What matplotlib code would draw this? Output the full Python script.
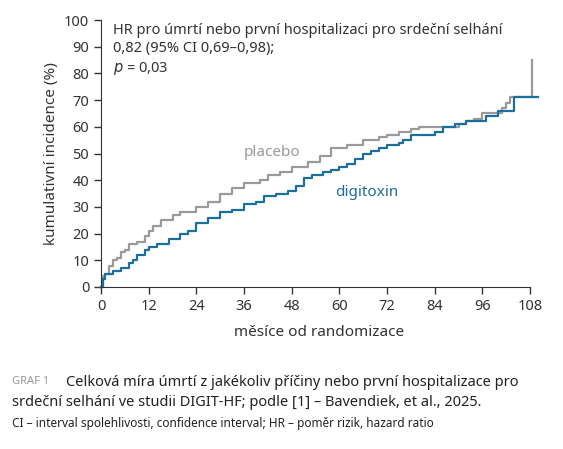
import matplotlib
matplotlib.use("Agg")
import matplotlib.pyplot as plt

plt.rcParams['font.family'] = ['Noto Sans', 'DejaVu Sans']

pl_t = [0,0.5,1,2,3,4,5,6,7,9,11,12,13,15,18,20,24,27,30,33,36,40,42,45,48,52,55,58,62,66,70,72,75,78,80,84,90,92,94,96,100,101,102,103,108.5]
pl_y = [0,4,5,8,10,11,13,14,16,17,19,21,23,25,27,28,30,32,35,37,39,40,42,43,45,47,49,52,53,55,56,57,58,59,60,60,61,62,63,65,65,67,69,71,71]
dg_t = [0,0.5,1,3,5,7,8,9,11,12,14,17,20,22,24,27,30,33,36,39,41,44,47,49,51,53,56,58,60,62,64,66,68,70,72,75,76,78,82,84,86,89,92,95,97,100,104,110]
dg_y = [0,3,5,6,7,9,10,12,14,15,16,18,20,21,24,26,28,29,31,32,34,35,36,38,41,42,43,44,45,46,48,50,51,52,53,54,55,57,57,58,60,61,62,62,64,66,71,71]
xticks = [0,12,24,36,48,60,72,84,96,108]
yticks = list(range(0,101,10))

fig = plt.figure(figsize=(5.63,4.49), dpi=100)
ax = fig.add_axes([101/563, 1-287/449, 437/563, 267/449])
gray = '#9a9a9a'; blue = '#1b6f9c'
ax.step(pl_t, pl_y, where='post', color=gray, lw=1.6, clip_on=False)
ax.plot([108.5,108.5],[71,85], color=gray, lw=1.6, clip_on=False)
ax.step(dg_t, dg_y, where='post', color=blue, lw=1.6, clip_on=False)
ax.set_xlim(0,110); ax.set_ylim(0,100)
ax.set_xticks(xticks); ax.set_yticks(yticks)
for s in ['top','right']: ax.spines[s].set_visible(False)
ax.spines['bottom'].set_bounds(0,108)
for s in ['left','bottom']: ax.spines[s].set_color('#333333')
ax.tick_params(colors='#333333', labelsize=10.5, length=5, width=1)
ax.set_xlabel('měsíce od randomizace', fontsize=11, color='#333333', labelpad=8)
ax.set_ylabel('kumulativní incidence (%)', fontsize=11, color='#333333')
ax.text(3, 99, 'HR pro úmrtí nebo první hospitalizaci pro srdeční selhání\n0,82 (95% CI 0,69–0,98);\n$p$ = 0,03',
        va='top', ha='left', fontsize=10.5, color='#333333', linespacing=1.3)
ax.text(36, 49, 'placebo', color=gray, fontsize=11)
ax.text(59, 34, 'digitoxin', color=blue, fontsize=11)
fig.text(12/563, 1-382/449, 'GRAF 1', fontsize=8, color='#999999', weight='bold', va='center')
fig.text(66/563, 1-382/449, 'Celková míra úmrtí z jakékoliv příčiny nebo první hospitalizace pro', fontsize=10.5, color='#222222', va='center')
fig.text(12/563, 1-402/449, 'srdeční selhání ve studii DIGIT-HF; podle [1] – Bavendiek, et al., 2025.', fontsize=10.5, color='#222222', va='center')
fig.text(12/563, 1-424/449, 'CI – interval spolehlivosti, confidence interval; HR – poměr rizik, hazard ratio', fontsize=8.5, color='#222222', va='center')
fig.savefig('out.png', dpi=100)
